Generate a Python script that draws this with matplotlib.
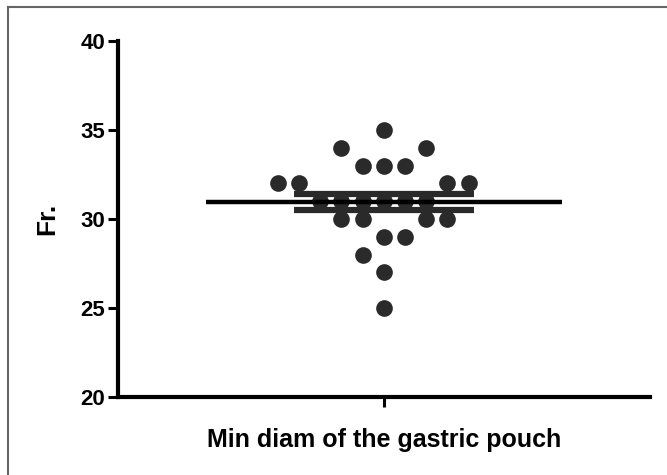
import matplotlib
matplotlib.use("Agg")
import matplotlib.pyplot as plt
from matplotlib.lines import Line2D
import numpy as np

# ---- data ----
values = [35,
          34, 34,
          33, 33, 33,
          32, 32, 32, 32,
          31, 31, 31, 31, 31, 31,
          30, 30, 30, 30,
          29, 29,
          28,
          27,
          25]
# horizontal slot index of each point in the scatter column (beeswarm layout)
slots = [0,
         -2, 2,
         -1, 0, 1,
         -5, -4, 3, 4,
         -3, -2, -1, 0, 1, 2,
         -2, -1, 2, 3,
         0, 1,
         -1,
         0,
         0]
y_ticks = [20, 25, 30, 35, 40]
x_label = "Min diam of the gastric pouch"
y_label = "Fr."

vals = np.array(values, dtype=float)
mean = vals.mean()
sem = vals.std(ddof=1) / np.sqrt(len(vals))

plt.rcParams['font.family'] = ['Liberation Sans', 'DejaVu Sans']

fig = plt.figure(figsize=(6.67, 4.75), dpi=100)
ax = fig.add_axes([117.5/667, 1-397/475, (650-117.5)/667, (397-41)/475])

slot_w = 0.0796
xs = np.array(slots) * slot_w
ax.plot(xs, vals, 'o', color='#2a2a2a', markersize=12, markeredgewidth=0, zorder=2, clip_on=False)

# mean line and SEM bars
ax.hlines(mean, -0.668, 0.668, color='black', lw=3.2, zorder=3)
ax.hlines([mean - sem, mean + sem], -0.338, 0.338, color='#2a2a2a', lw=4.5, zorder=2.5)
ax.vlines(0, mean - sem, mean + sem, color='#2a2a2a', lw=4.5, zorder=2.5)

ax.set_xlim(-1, 1)
ax.set_ylim(20, 40)
ax.set_yticks(y_ticks)
ax.set_xticks([0])
ax.set_xticklabels([''])
for s in ['top', 'right']:
    ax.spines[s].set_visible(False)
for s in ['left', 'bottom']:
    ax.spines[s].set_linewidth(3)
    ax.spines[s].set_color('black')
ax.tick_params(axis='both', direction='out', length=7, width=2.2, color='black')
ax.tick_params(axis='y', pad=2)
for lab in ax.get_yticklabels():
    lab.set_fontsize(16)
    lab.set_fontweight('bold')

ax.set_xlabel(x_label, fontsize=18, fontweight='bold', va='center')
ax.xaxis.set_label_coords(0.5, -(440-397)/356)
ax.set_ylabel(y_label, fontsize=19, fontweight='bold', va='center', ha='center')
ax.yaxis.set_label_coords((47-117.5)/532.5, 0.5)

# figure frame (top and left)
fig.add_artist(Line2D([8/667, 8/667], [0, 1-7/475], transform=fig.transFigure, color='#666666', lw=1.5))
fig.add_artist(Line2D([8/667, 1], [1-7/475, 1-7/475], transform=fig.transFigure, color='#666666', lw=1.5))

fig.savefig("out.png", dpi=100)
